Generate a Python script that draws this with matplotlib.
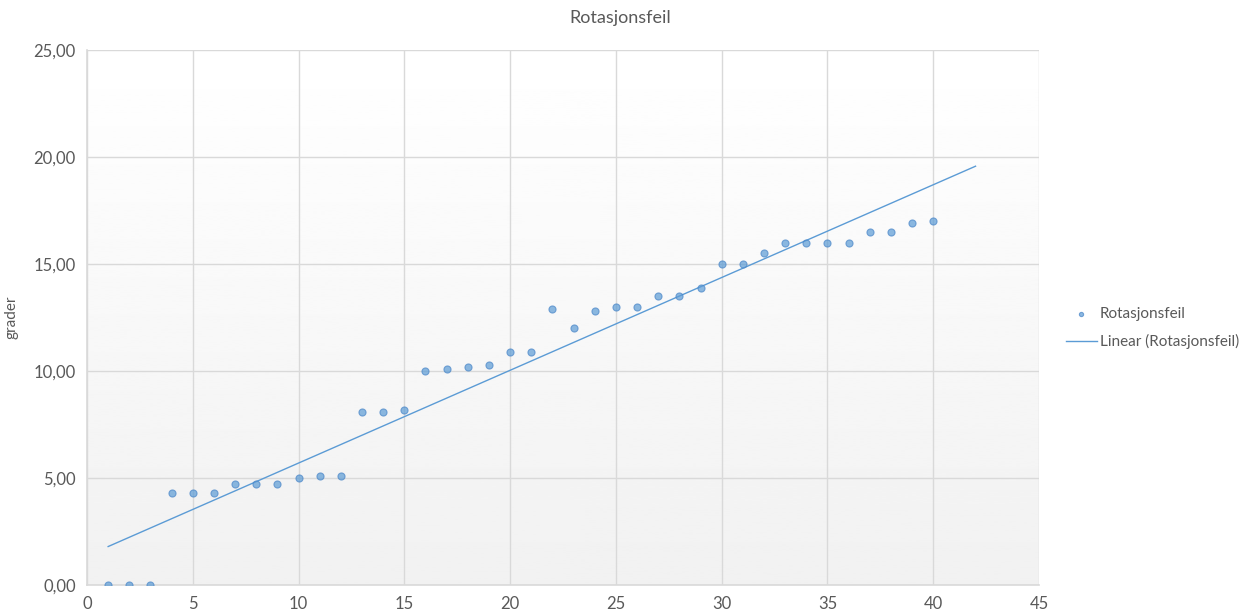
"""Rotation error per measurement, with a linear trendline."""
import matplotlib
matplotlib.use("Agg")
import matplotlib.pyplot as plt
import matplotlib.ticker as mticker
import numpy as np

# measurement number and rotation error (degrees)
maaling = list(range(1, 41))
rotasjonsfeil = [
    0.0, 0.0, 0.0, 4.3, 4.3, 4.3, 4.7, 4.7, 4.7, 5.0,
    5.1, 5.1, 8.1, 8.1, 8.2, 10.0, 10.1, 10.2, 10.3, 10.9,
    10.9, 12.9, 12.0, 12.8, 13.0, 13.0, 13.5, 13.5, 13.9, 15.0,
    15.0, 15.5, 16.0, 16.0, 16.0, 16.0, 16.5, 16.5, 16.9, 17.0,
]
trend_end = 42  # trendline forecast forward to 42

TEXT = "#595959"
GRID = "#d9d9d9"
BLUE = "#5b9bd5"

plt.rcParams.update({
    "font.family": ["Lato", "DejaVu Sans"],
    "font.size": 12,
})

fig = plt.figure(figsize=(12.4, 6.16), dpi=100)
ax = fig.add_axes([87 / 1240, 1 - 585 / 616, (1039 - 87) / 1240, (585 - 50) / 616])

# plot-area fill: white at the top fading to light grey at the bottom
grad = np.linspace(1.0, 0.945, 256).reshape(-1, 1)
ax.imshow(grad, cmap="gray", vmin=0, vmax=1, aspect="auto",
          extent=[0, 45, 0, 25], origin="upper", zorder=0)

x = np.array(maaling, dtype=float)
y = np.array(rotasjonsfeil)
k, m = np.polyfit(x, y, 1)
xt = np.array([x[0], trend_end])

ax.plot(xt, k * xt + m, color=BLUE, lw=1.0, zorder=3,
        label="Linear (Rotasjonsfeil)")
ax.scatter(x, y, s=26, color=BLUE, alpha=0.7, edgecolors="#4a86c8",
           linewidths=0.8, zorder=4, label="Rotasjonsfeil")

ax.set_xlim(0, 45)
ax.set_ylim(0, 25)
ax.xaxis.set_major_locator(mticker.MultipleLocator(5))
ax.yaxis.set_major_locator(mticker.MultipleLocator(5))
ax.yaxis.set_major_formatter(
    mticker.FuncFormatter(lambda v, _: f"{v:.2f}".replace(".", ",")))

ax.grid(True, color=GRID, lw=1.0, zorder=1)
ax.set_axisbelow(True)
for side in ("top", "right"):
    ax.spines[side].set_visible(False)
for side in ("left", "bottom"):
    ax.spines[side].set_color(GRID)
    ax.spines[side].set_linewidth(1.2)
ax.tick_params(length=0, colors=TEXT, labelsize=12, pad=8)

ax.set_ylabel("grader", color=TEXT, fontsize=11)
ax.yaxis.set_label_coords(-0.072, 0.5)
fig.text(620 / 1240, 1 - 18 / 616, "Rotasjonsfeil", ha="center", va="center",
         color=TEXT, fontsize=13)

h, l = ax.get_legend_handles_labels()
ax.legend(h[::-1], l[::-1], loc="center left", bbox_to_anchor=(1.022, 0.48),
          frameon=False, fontsize=11, labelcolor=TEXT, handlelength=2.0,
          handletextpad=0.2, markerscale=0.6, borderaxespad=0,
          labelspacing=0.85)

fig.savefig("out.png", dpi=100, facecolor="white")
